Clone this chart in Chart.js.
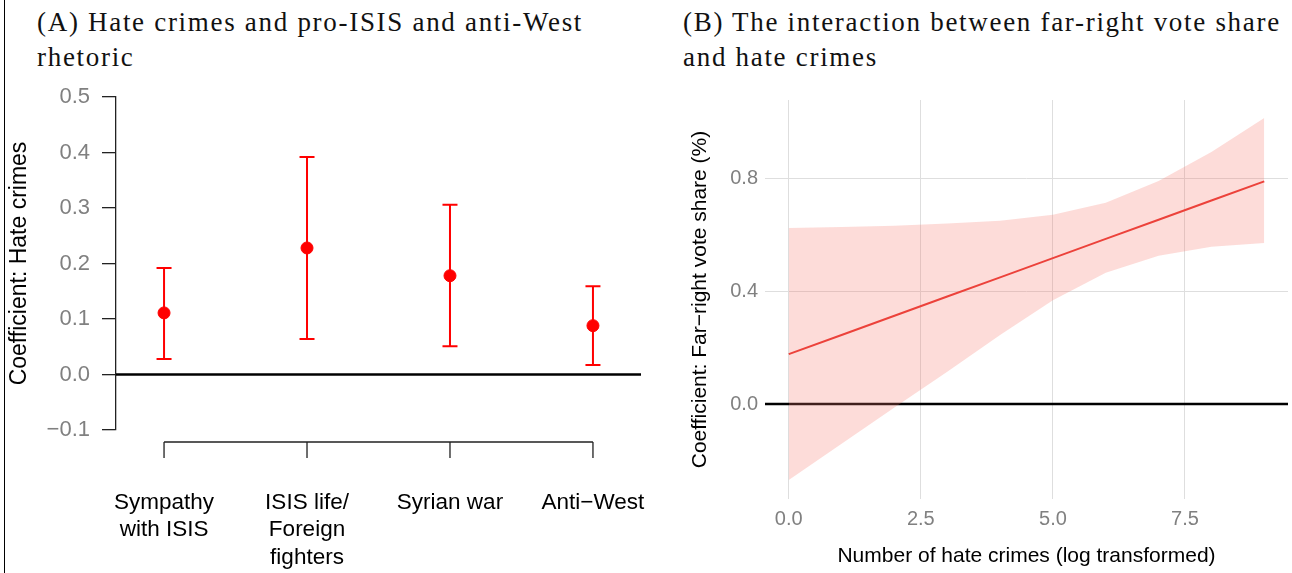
<!DOCTYPE html>
<html>
<head>
<meta charset="utf-8">
<script src="https://cdn.jsdelivr.net/npm/chart.js@4.4.1/dist/chart.umd.min.js"></script>
<style>
  body { margin: 0; background: #fff; width: 1292px; height: 573px; position: relative; overflow: hidden; }
  .title { position: absolute; font-family: "Liberation Serif", serif; font-size: 27px; line-height: 35px;
           color: #111; letter-spacing: 1.7px; white-space: nowrap; }
  #frame { position: absolute; left: 4px; top: 0; width: 1px; height: 573px; background: #000; }
  #wrapA { position: absolute; left: 0; top: 0; width: 660px; height: 573px; }
  #wrapB { position: absolute; left: 660px; top: 0; width: 632px; height: 573px; }
</style>
</head>
<body>
<div id="frame"></div>
<div class="title" style="left:37px;top:5px">(A) Hate crimes and pro-ISIS and anti-West<br>rhetoric</div>
<div class="title" style="left:683px;top:5px">(B) The interaction between far-right vote share<br>and hate crimes</div>
<div id="wrapA"><canvas id="chartA" width="660" height="573"></canvas></div>
<div id="wrapB"><canvas id="chartB" width="632" height="573"></canvas></div>
<script>
// panel A: coefficients with confidence intervals
const categories = [['Sympathy', 'with ISIS'], ['ISIS life/', 'Foreign', 'fighters'], ['Syrian war'], ['Anti\u2212West']];
const coef = [0.111, 0.228, 0.178, 0.088];
const ciLow = [0.028, 0.064, 0.051, 0.017];
const ciHigh = [0.192, 0.392, 0.306, 0.159];
const yTicksA = [-0.1, 0, 0.1, 0.2, 0.3, 0.4, 0.5];

// panel B: marginal effect of far-right vote share
const hateLog = [0, 1, 2, 3, 4, 5, 6, 7, 8, 9];
const effect = [0.177, 0.245, 0.313, 0.381, 0.449, 0.517, 0.585, 0.653, 0.721, 0.789];
const bandLow = [-0.269, -0.14, -0.012, 0.115, 0.245, 0.368, 0.465, 0.525, 0.557, 0.571];
const bandHigh = [0.624, 0.627, 0.632, 0.64, 0.649, 0.671, 0.713, 0.79, 0.893, 1.013];
const xTicksB = [0, 2.5, 5, 7.5];
const yTicksB = [0, 0.4, 0.8];

const sans = '"Liberation Sans", Arial, sans-serif';
const grey = '#808080';

function fmt(v) {
  return (v < 0 ? '\u2212' : '') + Math.abs(v).toFixed(1);
}

// black reference line at zero across the plot area
const zeroLine = {
  id: 'zeroLine',
  beforeDatasetsDraw(chart) {
    const ctx = chart.ctx, a = chart.chartArea;
    const y = chart.scales.y.getPixelForValue(0);
    ctx.save();
    ctx.strokeStyle = '#000';
    ctx.lineWidth = 2.5;
    ctx.beginPath();
    ctx.moveTo(a.left, y);
    ctx.lineTo(a.right, y);
    ctx.stroke();
    ctx.restore();
  }
};

const errorBars = {
  id: 'errorBars',
  beforeDatasetsDraw(chart) {
    const ctx = chart.ctx, xs = chart.scales.x, ys = chart.scales.y;
    ctx.save();
    ctx.strokeStyle = '#ff0000';
    ctx.lineWidth = 2;
    coef.forEach((c, i) => {
      const x = xs.getPixelForValue(i + 1);
      const y1 = ys.getPixelForValue(ciLow[i]);
      const y2 = ys.getPixelForValue(ciHigh[i]);
      ctx.beginPath();
      ctx.moveTo(x, y1); ctx.lineTo(x, y2);
      ctx.moveTo(x - 7.5, y1); ctx.lineTo(x + 7.5, y1);
      ctx.moveTo(x - 7.5, y2); ctx.lineTo(x + 7.5, y2);
      ctx.stroke();
    });
    ctx.restore();
  }
};

// base-R style detached x axis
const rAxis = {
  id: 'rAxis',
  afterDraw(chart) {
    const ctx = chart.ctx, xs = chart.scales.x;
    const y = chart.chartArea.bottom + 12;
    const x0 = xs.getPixelForValue(1), x1 = xs.getPixelForValue(categories.length);
    ctx.save();
    ctx.strokeStyle = '#222';
    ctx.lineWidth = 1.3;
    ctx.beginPath();
    ctx.moveTo(x0, y); ctx.lineTo(x1, y);
    categories.forEach((c, i) => {
      const x = xs.getPixelForValue(i + 1);
      ctx.moveTo(x, y); ctx.lineTo(x, y + 16);
    });
    ctx.stroke();
    ctx.restore();
  }
};

new Chart(document.getElementById('chartA'), {
  type: 'scatter',
  data: {
    datasets: [{
      data: coef.map((c, i) => ({ x: i + 1, y: c })),
      backgroundColor: '#ff0000',
      borderColor: '#ff0000',
      pointRadius: 6,
      pointHoverRadius: 6
    }]
  },
  options: {
    responsive: false,
    animation: false,
    devicePixelRatio: 1,
    layout: { padding: { left: 6, top: 97, right: 19, bottom: 0 } },
    plugins: { legend: { display: false }, tooltip: { enabled: false } },
    scales: {
      x: {
        type: 'linear', min: 0.664, max: 4.336,
        afterBuildTicks: s => { s.ticks = categories.map((c, i) => ({ value: i + 1 })); },
        afterFit: s => { s.height = 143; s.paddingLeft = 0; s.paddingRight = 0; },
        grid: { display: false },
        border: { display: false },
        ticks: {
          padding: 51, color: '#000', font: { family: sans, size: 22.5, lineHeight: 1.22 },
          maxRotation: 0, autoSkip: false,
          callback: (v) => categories[v - 1]
        }
      },
      y: {
        min: -0.1, max: 0.5,
        afterBuildTicks: s => { s.ticks = yTicksA.map(v => ({ value: v })); },
        afterFit: s => { s.width = 110; s.paddingTop = 0; s.paddingBottom = 0; },
        grid: { drawOnChartArea: false, color: '#222', tickLength: 14, lineWidth: 1.3 },
        border: { color: '#222', width: 1.3 },
        ticks: { padding: 12, color: grey, font: { family: sans, size: 22 }, callback: v => fmt(v) },
        title: { display: true, text: 'Coefficient: Hate crimes', color: '#000', padding: 0,
                 font: { family: sans, size: 23 } }
      }
    }
  },
  plugins: [zeroLine, errorBars, rAxis]
});

new Chart(document.getElementById('chartB'), {
  type: 'line',
  data: {
    datasets: [
      {
        data: hateLog.map((x, i) => ({ x, y: bandHigh[i] })),
        borderWidth: 0, pointRadius: 0, fill: '+1',
        backgroundColor: 'rgba(248,118,109,0.26)'
      },
      {
        data: hateLog.map((x, i) => ({ x, y: bandLow[i] })),
        borderWidth: 0, pointRadius: 0, fill: false
      },
      {
        data: hateLog.map((x, i) => ({ x, y: effect[i] })),
        borderColor: '#e8302a', borderWidth: 2, pointRadius: 0, fill: false
      }
    ]
  },
  options: {
    responsive: false,
    animation: false,
    devicePixelRatio: 1,
    layout: { padding: { left: 28, top: 100, right: 4, bottom: 0 } },
    plugins: { legend: { display: false }, tooltip: { enabled: false } },
    scales: {
      x: {
        type: 'linear', min: -0.45, max: 9.45,
        afterBuildTicks: s => { s.ticks = xTicksB.map(v => ({ value: v })); },
        afterFit: s => { s.height = 74; },
        grid: { color: '#dedede', lineWidth: 1, drawTicks: false },
        border: { display: false },
        ticks: { padding: 8, color: grey, font: { family: sans, size: 20 }, callback: v => v.toFixed(1) },
        title: { display: true, text: 'Number of hate crimes (log transformed)', color: '#000',
                 padding: { top: 14 }, font: { family: sans, size: 21 } }
      },
      y: {
        min: -0.336, max: 1.077,
        afterBuildTicks: s => { s.ticks = yTicksB.map(v => ({ value: v })); },
        afterFit: s => { s.width = 77; },
        grid: { color: '#dedede', lineWidth: 1, drawTicks: false },
        border: { display: false },
        ticks: { padding: 7, color: grey, font: { family: sans, size: 20 }, callback: v => v.toFixed(1) },
        title: { display: true, text: 'Coefficient: Far\u2212right vote share (%)', color: '#000', padding: 0,
                 font: { family: sans, size: 21 } }
      }
    }
  },
  plugins: [zeroLine]
});
</script>
</body>
</html>
